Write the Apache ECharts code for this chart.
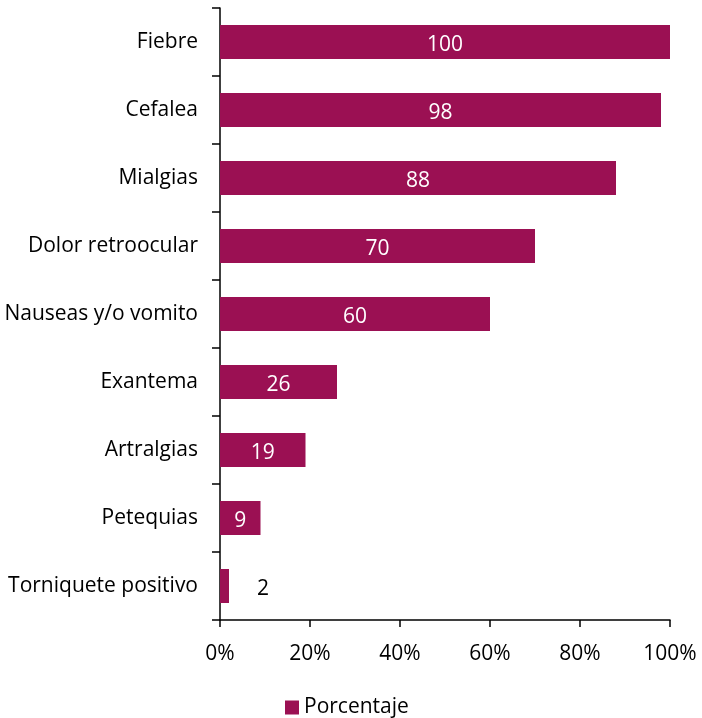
<!DOCTYPE html>
<html><head><meta charset="utf-8">
<script src="https://cdn.jsdelivr.net/npm/echarts@6/dist/echarts.min.js"></script>
<style>html,body{margin:0;padding:0;background:#fff}#c{width:702px;height:718px}</style>
</head><body><div id="c"></div>
<script>
var categories = ["Fiebre","Cefalea","Mialgias","Dolor retroocular","Nauseas y/o vomito","Exantema","Artralgias","Petequias","Torniquete positivo"];
var values = [100, 98, 88, 70, 60, 26, 19, 9, 2];
var xTicks = [0, 20, 40, 60, 80, 100];
var seriesName = "Porcentaje";

var FONT = "Open Sans";
var FS = 21;
var chart = echarts.init(document.getElementById('c'), null, {renderer:'canvas'});
var data = values.map(function(v, i){
  var d = {value: v};
  if (v < 5) d.label = {position: 'right', distance: 28, color: '#000'};
  return d;
});
chart.setOption({
  animation: false,
  textStyle: {fontFamily: FONT},
  grid: {left: 220, right: 32, top: 8, bottom: 98, containLabel: false},
  xAxis: {
    type: 'value', min: 0, max: 100, interval: 20,
    axisLine: {show: true, lineStyle: {color: '#000', width: 1.5}},
    axisTick: {show: true, length: 7, lineStyle: {color: '#000', width: 1.5}},
    splitLine: {show: false},
    axisLabel: {formatter: function(v){return v + '%';}, color: '#000', fontSize: FS, fontFamily: FONT, margin: 24}
  },
  yAxis: {
    type: 'category', data: categories, inverse: true,
    axisLine: {show: true, lineStyle: {color: '#000', width: 1.5}},
    axisTick: {show: true, length: 8, lineStyle: {color: '#000', width: 1.5}},
    axisLabel: {color: '#000', fontSize: FS, fontFamily: FONT, margin: 22, padding: [4, 0, 0, 0]}
  },
  legend: {
    data: [seriesName], left: 280, top: 692, icon: 'rect', itemWidth: 14, itemHeight: 14, itemGap: 10,
    textStyle: {color: '#000', fontSize: FS, fontFamily: FONT, padding: [0,0,0,0]}
  },
  series: [{
    name: seriesName, type: 'bar', data: data, barWidth: 34,
    itemStyle: {color: '#9b1053'},
    label: {show: true, position: 'inside', color: '#fff', fontSize: FS, fontFamily: FONT, offset: [0, 3]}
  }]
});
</script></body></html>
